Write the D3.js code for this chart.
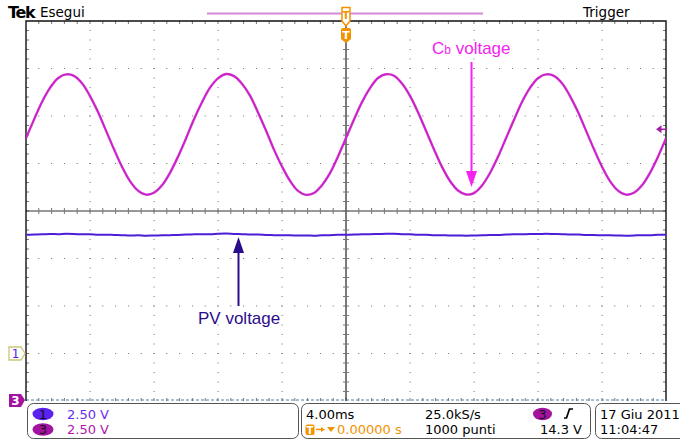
<!DOCTYPE html>
<html><head><meta charset="utf-8">
<script src="https://cdn.jsdelivr.net/npm/d3@7"></script>
<style>html,body{margin:0;padding:0;background:#fff;overflow:hidden}</style>
</head><body>
<svg id="scope" width="680" height="441"></svg>
<script>
// ---- acquisition settings ----
const timePerDivMs = 4;
const voltsPerDiv = 2.5;
const tStartMs = -20;
const tStepMs = 0.5;
const ch1OffsetDiv = -3;   // channel 1 ground marker
const ch3OffsetDiv = -4;   // channel 3 ground marker
const triggerLevelV = 14.3;

// ---- channel 3: Cb voltage (V), one sample every 0.5 ms ----
const cbVolts = [
  13.83, 14.81, 15.74, 16.48, 16.99, 17.19, 17.11, 16.72, 16.05, 15.21,
  14.23, 13.25, 12.33, 11.57, 11.07, 10.86, 10.96, 11.35, 12.01, 12.86,
  13.82, 14.83, 15.72, 16.49, 16.98, 17.21, 17.10, 16.70, 16.07, 15.19,
  14.24, 13.23, 12.34, 11.59, 11.06, 10.85, 10.95, 11.36, 11.99, 12.87,
  13.84, 14.82, 15.73, 16.47, 17.00, 17.20, 17.12, 16.71, 16.06, 15.20,
  14.22, 13.24, 12.32, 11.58, 11.08, 10.87, 10.94, 11.34, 12.00, 12.85,
  13.83, 14.80, 15.74, 16.48, 16.99, 17.19, 17.11, 16.72, 16.05, 15.21,
  14.23, 13.25, 12.33, 11.57, 11.07, 10.86, 10.96, 11.35, 12.01, 12.86,
  13.83
];

// ---- channel 1: PV voltage (V), one sample every 0.5 ms ----
const pvVolts = [
  6.25, 6.26, 6.27, 6.29, 6.28, 6.30, 6.29, 6.27, 6.27, 6.25,
  6.25, 6.24, 6.23, 6.21, 6.22, 6.20, 6.21, 6.22, 6.23, 6.24,
  6.26, 6.27, 6.28, 6.28, 6.30, 6.31, 6.29, 6.28, 6.26, 6.26,
  6.24, 6.23, 6.22, 6.22, 6.21, 6.21, 6.20, 6.22, 6.23, 6.25,
  6.25, 6.26, 6.28, 6.28, 6.29, 6.30, 6.30, 6.28, 6.27, 6.25,
  6.25, 6.23, 6.23, 6.21, 6.21, 6.20, 6.21, 6.22, 6.24, 6.24,
  6.26, 6.27, 6.27, 6.29, 6.29, 6.30, 6.29, 6.28, 6.26, 6.26,
  6.24, 6.24, 6.22, 6.22, 6.21, 6.20, 6.21, 6.23, 6.23, 6.25,
  6.25
];

// ---- status bar texts ----
const channelIds = ["1", "3"];
const channelScales = ["2.50 V", "2.50 V"];
const channelColors = ["#5a22ee", "#a3139f"];
const channelTextColors = ["#6a2cf2", "#b015ae"];
const timebaseLabel = "4.00ms";
const sampleRateLabel = "25.0kS/s";
const delayLabel = "0.00000 s";
const recordLabel = "1000 punti";
const triggerLabel = "14.3 V";
const dateLabel = "17 Giu  2011";
const clockLabel = "11:04:47";

const svg = d3.select("#scope");
const font = "'DejaVu Sans', sans-serif";

// ---- scales ----
const x = d3.scaleLinear().domain([-5 * timePerDivMs, 5 * timePerDivMs]).range([26, 666]);
const yDiv = d3.scaleLinear().domain([-4, 4]).range([401, 21]);
const yCh1 = v => yDiv(v / voltsPerDiv + ch1OffsetDiv);
const yCh3 = v => yDiv(v / voltsPerDiv + ch3OffsetDiv);
const tAt = i => tStartMs + i * tStepMs;

const [xL, xR] = x.range();
const [yB, yT] = yDiv.range();
const x0 = x(0), y0 = yDiv(0);

// ---- graticule ----
const grat = svg.append("g");
const minorT = d3.range(-20, 20.001, timePerDivMs / 5);
const minorD = d3.range(-4, 4.001, 0.2);
const majorT = d3.range(-16, 16.001, timePerDivMs).filter(t => Math.abs(t) > 1e-9);
const majorD = [-3, -2, -1, 1, 2, 3];

// dotted vertical grid lines
majorT.forEach(t => {
  grat.selectAll(null).data(minorD.slice(1, -1)).join("rect")
    .attr("x", x(t) - 0.5).attr("y", d => yDiv(d) - 0.5)
    .attr("width", 1).attr("height", 1).attr("fill", "#6e6e6e");
});
// dotted horizontal grid lines
majorD.forEach(d => {
  grat.selectAll(null).data(minorT.slice(1, -1)).join("rect")
    .attr("x", t => x(t) - 0.5).attr("y", yDiv(d) - 0.5)
    .attr("width", 1).attr("height", 1).attr("fill", "#6e6e6e");
});

// border ticks
const tickT = minorT.slice(1, -1), tickD = minorD.slice(1, -1);
grat.selectAll(null).data(tickT).join("line")
  .attr("x1", t => x(t)).attr("x2", t => x(t)).attr("y1", yT).attr("y2", yT + 3)
  .attr("stroke", "#777").attr("stroke-width", 1);
grat.selectAll(null).data(tickT).join("line")
  .attr("x1", t => x(t)).attr("x2", t => x(t)).attr("y1", yB).attr("y2", yB - 3)
  .attr("stroke", "#777").attr("stroke-width", 1);
grat.selectAll(null).data(tickD).join("line")
  .attr("x1", xL).attr("x2", xL + 3).attr("y1", d => yDiv(d)).attr("y2", d => yDiv(d))
  .attr("stroke", "#777").attr("stroke-width", 1);
grat.selectAll(null).data(tickD).join("line")
  .attr("x1", xR).attr("x2", xR - 3).attr("y1", d => yDiv(d)).attr("y2", d => yDiv(d))
  .attr("stroke", "#777").attr("stroke-width", 1);

// centre crosshair with minor ticks
grat.append("line").attr("x1", xL).attr("x2", xR).attr("y1", y0).attr("y2", y0)
  .attr("stroke", "#333").attr("stroke-width", 1);
grat.append("line").attr("x1", x0).attr("x2", x0).attr("y1", yT).attr("y2", yB)
  .attr("stroke", "#222").attr("stroke-width", 1.2);
grat.selectAll(null).data(tickT).join("line")
  .attr("x1", t => x(t)).attr("x2", t => x(t)).attr("y1", y0 - 3).attr("y2", y0 + 3)
  .attr("stroke", "#777").attr("stroke-width", 1);
grat.selectAll(null).data(tickD).join("line")
  .attr("x1", x0 - 3).attr("x2", x0 + 3).attr("y1", d => yDiv(d)).attr("y2", d => yDiv(d))
  .attr("stroke", "#777").attr("stroke-width", 1);

// bottom edge with idle-channel dashes
grat.append("line").attr("x1", xL).attr("x2", xR).attr("y1", yB - 1).attr("y2", yB - 1)
  .attr("stroke", "#4f7ea6").attr("stroke-width", 1.2).attr("stroke-dasharray", "3,2");

// frame
grat.append("path")
  .attr("d", `M${xL},${yB} L${xL},${yT} L${xR},${yT} L${xR},${yB}`)
  .attr("fill", "none").attr("stroke", "#111").attr("stroke-width", 1.4);

// ---- traces ----
svg.append("clipPath").attr("id", "screen").append("rect")
  .attr("x", xL).attr("y", yT).attr("width", xR - xL).attr("height", yB - yT);

const traces = svg.append("g").attr("clip-path", "url(#screen)");
const cbLine = d3.line().x((d, i) => x(tAt(i))).y(d => yCh3(d)).curve(d3.curveCatmullRom);
traces.append("path").attr("d", cbLine(cbVolts))
  .attr("fill", "none").attr("stroke", "#d92cd6").attr("stroke-width", 2.4);
traces.append("path").attr("d", cbLine(cbVolts))
  .attr("fill", "none").attr("stroke", "#8e1a8e").attr("stroke-width", 0.7).attr("opacity", 0.55);

const pvLine = d3.line().x((d, i) => x(tAt(i))).y(d => yCh1(d)).curve(d3.curveMonotoneX);
traces.append("path").attr("d", pvLine(pvVolts))
  .attr("fill", "none").attr("stroke", "#4d1ed8").attr("stroke-width", 2);

// ---- header ----
svg.append("text").attr("x", 8).attr("y", 18).text("Tek")
  .attr("font-family", font).attr("font-weight", "bold")
  .attr("font-size", 16).attr("letter-spacing", -1.3).attr("fill", "#000");
svg.append("text").attr("x", 40).attr("y", 17).text("Esegui")
  .attr("font-family", font).attr("font-size", 13.5).attr("fill", "#000");
svg.append("text").attr("x", 583).attr("y", 17).text("Trigger")
  .attr("font-family", font).attr("font-size", 13.5).attr("fill", "#000");

// record view bar
svg.append("line").attr("x1", 207).attr("x2", 483).attr("y1", 13.5).attr("y2", 13.5)
  .attr("stroke", "#d489d8").attr("stroke-width", 2);

// trigger position markers
const orange = "#f39200";
svg.append("path")
  .attr("d", `M${x0 - 4},7.5 H${x0 + 4} V21 L${x0},26 L${x0 - 4},21 Z`)
  .attr("fill", "#fff").attr("stroke", orange).attr("stroke-width", 1.5);
svg.append("text").attr("x", x0).attr("y", 19).text("T").attr("text-anchor", "middle")
  .attr("font-family", font).attr("font-size", 10).attr("font-weight", "bold").attr("fill", orange);
svg.append("path")
  .attr("d", `M${x0 - 5},30 Q${x0 - 5},28 ${x0 - 3},28 H${x0 + 3} Q${x0 + 5},28 ${x0 + 5},30 V39 L${x0},43 L${x0 - 5},39 Z`)
  .attr("fill", orange);
svg.append("text").attr("x", x0).attr("y", 39).text("T").attr("text-anchor", "middle")
  .attr("font-family", font).attr("font-size", 11).attr("font-weight", "bold").attr("fill", "#fff");

// trigger level marker on the right edge
const yTrig = yCh3(triggerLevelV);
svg.append("path").attr("d", `M${xR - 10},${yTrig} L${xR - 4.5},${yTrig - 4} L${xR - 4.5},${yTrig + 4} Z`)
  .attr("fill", "#a81aa8");
svg.append("line").attr("x1", xR - 5).attr("x2", xR + 1).attr("y1", yTrig).attr("y2", yTrig)
  .attr("stroke", "#a81aa8").attr("stroke-width", 1.5);

// channel ground markers
const g1 = yCh1(0), g3 = yCh3(0);
svg.append("path")
  .attr("d", `M9,${g1 - 6.5} H21 L25,${g1} L21,${g1 + 6.5} H9 Z`)
  .attr("fill", "#fff").attr("stroke", "#c9c77a").attr("stroke-width", 1.3);
svg.append("text").attr("x", 15.5).attr("y", g1 + 4.5).text("1").attr("text-anchor", "middle")
  .attr("font-family", font).attr("font-size", 12).attr("fill", channelColors[0]);
svg.append("path")
  .attr("d", `M9,${g3 - 7} H21 L25,${g3 - 1} L21,${g3 + 6} H9 Z`)
  .attr("fill", channelColors[1]);
svg.append("text").attr("x", 15.5).attr("y", g3 + 3.5).text("3").attr("text-anchor", "middle")
  .attr("font-family", font).attr("font-size", 12).attr("font-weight", "bold").attr("fill", "#fff");

// ---- annotations ----
const cbColor = "#f522f0";
const cbText = svg.append("text").attr("x", 432).attr("y", 53.5)
  .attr("font-family", "'Liberation Sans', Arial, sans-serif").attr("font-size", 17).attr("fill", cbColor);
cbText.append("tspan").text("C");
cbText.append("tspan").attr("font-size", 12).text("b");
cbText.append("tspan").text(" voltage");

const cbArrowX = 471.5;
svg.append("line").attr("x1", cbArrowX).attr("x2", cbArrowX).attr("y1", 62).attr("y2", 175)
  .attr("stroke", cbColor).attr("stroke-width", 2);
svg.append("path").attr("d", `M${cbArrowX - 5.5},171 H${cbArrowX + 5.5} L${cbArrowX},187 Z`).attr("fill", cbColor);

const pvColor = "#2b0c8c";
svg.append("text").attr("x", 198).attr("y", 323.5).text("PV voltage")
  .attr("font-family", "'Liberation Sans', Arial, sans-serif").attr("font-size", 17).attr("fill", pvColor);
const pvArrowX = 238.5;
svg.append("path").attr("d", `M${pvArrowX - 5.5},253 H${pvArrowX + 5.5} L${pvArrowX},237 Z`).attr("fill", pvColor);
svg.append("line").attr("x1", pvArrowX).attr("x2", pvArrowX).attr("y1", 250).attr("y2", 306)
  .attr("stroke", pvColor).attr("stroke-width", 2);

// ---- status bar ----
const bar = svg.append("g");
const boxStroke = "#555";
[[27, 298], [301, 590], [595, 700]].forEach(([a, b]) => {
  bar.append("rect").attr("x", a + 0.5).attr("y", 403.5).attr("width", b - a).attr("height", 35)
    .attr("rx", 6).attr("fill", "#fff").attr("stroke", boxStroke).attr("stroke-width", 1);
});

const rowY = [418.5, 434];
channelIds.forEach((id, i) => {
  bar.append("ellipse").attr("cx", 43).attr("cy", rowY[i] - 4.5).attr("rx", 10.5).attr("ry", 6.2)
    .attr("fill", channelColors[i]);
  bar.append("text").attr("x", 43).attr("y", rowY[i]).text(id).attr("text-anchor", "middle")
    .attr("font-family", font).attr("font-size", 12.5).attr("fill", "#111");
  bar.append("text").attr("x", 67).attr("y", rowY[i]).text(channelScales[i])
    .attr("font-family", font).attr("font-size", 13).attr("fill", channelTextColors[i]);
});

const txt = (xx, yy, s, fill) => bar.append("text").attr("x", xx).attr("y", yy).text(s)
  .attr("font-family", font).attr("font-size", 13).attr("fill", fill || "#000");

txt(306, rowY[0], timebaseLabel);
txt(425, rowY[0], sampleRateLabel);
txt(425, rowY[1], recordLabel);

// delay row: T badge, arrow, down-triangle, value
bar.append("rect").attr("x", 305.5).attr("y", 424.5).attr("width", 9).attr("height", 10.5).attr("rx", 2).attr("fill", orange);
bar.append("text").attr("x", 310).attr("y", 433.5).text("T").attr("text-anchor", "middle")
  .attr("font-family", font).attr("font-size", 10).attr("font-weight", "bold").attr("fill", "#fff");
bar.append("line").attr("x1", 316).attr("x2", 323).attr("y1", 429.5).attr("y2", 429.5)
  .attr("stroke", orange).attr("stroke-width", 1.5);
bar.append("path").attr("d", "M321,427 L325,429.5 L321,432 Z").attr("fill", orange);
bar.append("path").attr("d", "M327,427 H335 L331,432 Z").attr("fill", orange);
txt(337, rowY[1], delayLabel, orange);

// trigger source and slope
bar.append("ellipse").attr("cx", 542.5).attr("cy", rowY[0] - 4.5).attr("rx", 9.5).attr("ry", 6.2)
  .attr("fill", channelColors[1]);
bar.append("text").attr("x", 542.5).attr("y", rowY[0]).text(channelIds[1]).attr("text-anchor", "middle")
  .attr("font-family", font).attr("font-size", 12.5).attr("fill", "#111");
bar.append("path").attr("d", "M564,418 L566.5,418 L569.5,409 L573,409")
  .attr("fill", "none").attr("stroke", "#000").attr("stroke-width", 1.7);
txt(540, rowY[1], triggerLabel);

txt(600, rowY[0], dateLabel);
txt(600, rowY[1], clockLabel);
</script>
</body></html>
